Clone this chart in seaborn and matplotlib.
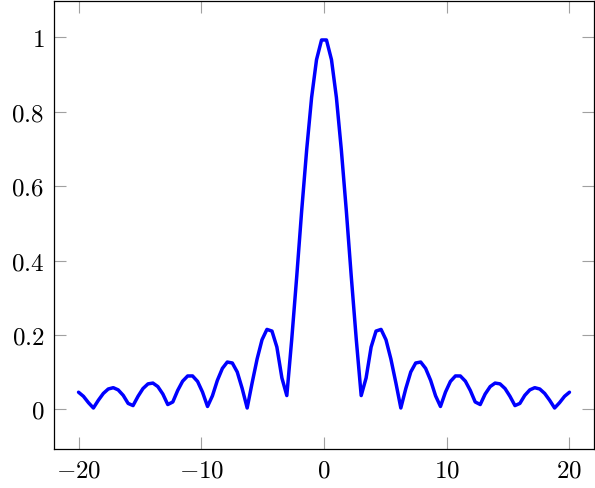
import matplotlib
matplotlib.use("Agg")
import matplotlib.pyplot as plt
import seaborn as sns
from matplotlib.ticker import FuncFormatter

x_vals = [-20.00, -19.60, -19.19, -18.79, -18.38, -17.98, -17.58, -17.17, -16.77, -16.36,
          -15.96, -15.56, -15.15, -14.75, -14.34, -13.94, -13.54, -13.13, -12.73, -12.32,
          -11.92, -11.52, -11.11, -10.71, -10.30, -9.90, -9.49, -9.09, -8.69, -8.28,
          -7.88, -7.47, -7.07, -6.67, -6.26, -5.86, -5.45, -5.05, -4.65, -4.24,
          -3.84, -3.43, -3.03, -2.63, -2.22, -1.82, -1.41, -1.01, -0.61, -0.20,
          0.20, 0.61, 1.01, 1.41, 1.82, 2.22, 2.63, 3.03, 3.43, 3.84,
          4.24, 4.65, 5.05, 5.45, 5.86, 6.26, 6.67, 7.07, 7.47, 7.88,
          8.28, 8.69, 9.09, 9.49, 9.90, 10.30, 10.71, 11.11, 11.52, 11.92,
          12.32, 12.73, 13.13, 13.54, 13.94, 14.34, 14.75, 15.15, 15.56, 15.96,
          16.36, 16.77, 17.17, 17.58, 17.98, 18.38, 18.79, 19.19, 19.60, 20.00]
y_vals = [0.0457, 0.0347, 0.0175, 0.0033, 0.0244, 0.0425, 0.0544, 0.0579, 0.0520, 0.0373,
          0.0156, 0.0098, 0.0349, 0.0556, 0.0682, 0.0703, 0.0609, 0.0408, 0.0126, 0.0195,
          0.0506, 0.0754, 0.0894, 0.0895, 0.0747, 0.0461, 0.0074, 0.0361, 0.0775, 0.1098,
          0.1269, 0.1243, 0.1002, 0.0561, 0.0033, 0.0703, 0.1351, 0.1868, 0.2147, 0.2102,
          0.1672, 0.0840, 0.0367, 0.1876, 0.3578, 0.5333, 0.6985, 0.8385, 0.9400, 0.9932,
          0.9932, 0.9400, 0.8385, 0.6985, 0.5333, 0.3578, 0.1876, 0.0367, 0.0840, 0.1672,
          0.2102, 0.2147, 0.1868, 0.1351, 0.0703, 0.0033, 0.0561, 0.1002, 0.1243, 0.1269,
          0.1098, 0.0775, 0.0361, 0.0074, 0.0461, 0.0747, 0.0895, 0.0894, 0.0754, 0.0506,
          0.0195, 0.0126, 0.0408, 0.0609, 0.0703, 0.0682, 0.0556, 0.0349, 0.0098, 0.0156,
          0.0373, 0.0520, 0.0579, 0.0544, 0.0425, 0.0244, 0.0033, 0.0175, 0.0347, 0.0457]

x_ticks = [-20, -10, 0, 10, 20]
y_ticks = [0, 0.2, 0.4, 0.6, 0.8, 1]

sns.set_style("white")
plt.rcParams["mathtext.fontset"] = "cm"

fig = plt.figure(figsize=(5.95, 4.88), dpi=100)
ax = fig.add_axes([54 / 595, 39 / 488, 540 / 595, 448 / 488])

sns.lineplot(x=x_vals, y=y_vals, ax=ax, color="#0000ff", linewidth=2.5, sort=False)

ax.set_xlim(-22, 22)
ax.set_ylim(-0.107, 1.098)
ax.set_xticks(x_ticks)
ax.set_yticks(y_ticks)


def math_fmt(v, pos):
    return f"${v:g}$"


ax.xaxis.set_major_formatter(FuncFormatter(math_fmt))
ax.yaxis.set_major_formatter(FuncFormatter(math_fmt))

ax.tick_params(axis="both", which="major", direction="in", length=8.6, width=0.8,
               color="#a0a0a0", labelsize=18, labelcolor="black",
               top=True, right=True, bottom=True, left=True, pad=7)

for s in ax.spines.values():
    s.set_color("black")
    s.set_linewidth(0.9)
    s.set_visible(True)

fig.savefig("out.png", dpi=100)
